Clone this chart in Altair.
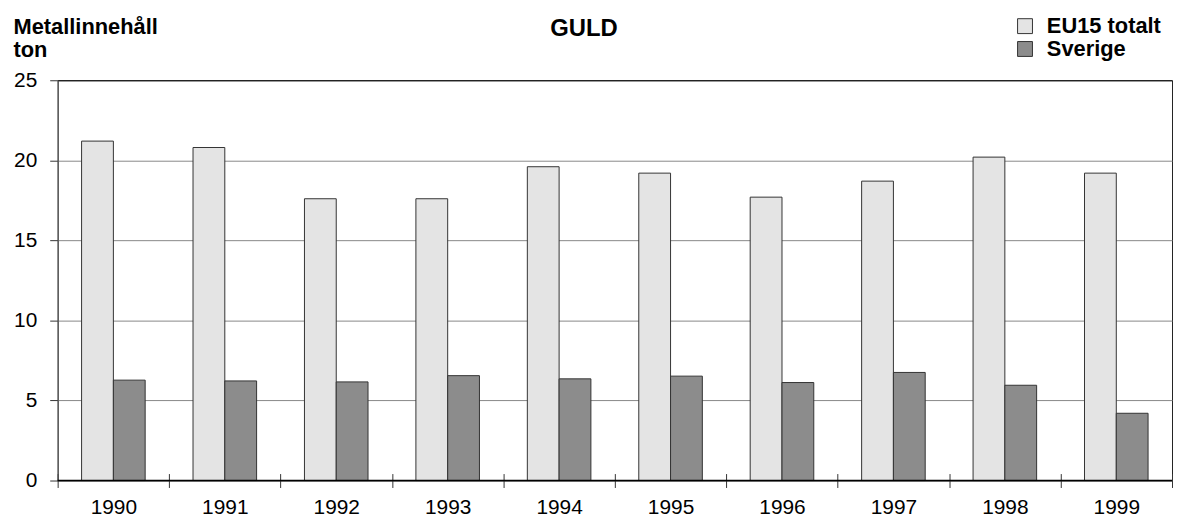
import altair as alt
import pandas as pd

years = ["1990", "1991", "1992", "1993", "1994", "1995", "1996", "1997", "1998", "1999"]
eu15 = [21.2, 20.8, 17.6, 17.6, 19.6, 19.2, 17.7, 18.7, 20.2, 19.2]
sverige = [6.27, 6.22, 6.16, 6.55, 6.35, 6.52, 6.12, 6.75, 5.95, 4.2]
series = ["EU15 totalt", "Sverige"]
colors = ["#e4e4e4", "#8c8c8c"]
y_ticks = [0, 5, 10, 15, 20, 25]
y_title = ["Metallinnehåll", "ton"]
chart_title = ["GULD"]

rows = []
for i, yr in enumerate(years):
    rows.append({"year": yr, "series": series[0], "value": eu15[i]})
    rows.append({"year": yr, "series": series[1], "value": sverige[i]})
df = pd.DataFrame(rows)

FONT = "Liberation Sans"

y_axis = alt.Axis(values=y_ticks, title=y_title, titleAngle=0, titleAlign="left",
                  titleBaseline="alphabetic", titleX=-45, titleY=-47,
                  titleFontSize=22, titleFontWeight="bold", titleFont=FONT,
                  titleLineHeight=23, titleColor="black",
                  labelFontSize=21, labelFont=FONT, labelColor="black",
                  labelPadding=13, tickSize=8, tickColor="#333333",
                  domainColor="#555555",
                  gridColor={"condition": {"test": "datum.value === 25", "value": "#111111"},
                             "value": "#888888"})

bars = alt.Chart(df).mark_bar(stroke="#333333", strokeWidth=1).encode(
    x=alt.X(
        "year:N", sort=years,
        scale=alt.Scale(paddingInner=0, paddingOuter=0),
        axis=alt.Axis(title=None, labelAngle=0, domain=False, tickBand="extent",
                      tickSize=14, offset=-7, tickColor="#333333", tickWidth=1,
                      labelFontSize=21, labelPadding=9, labelColor="black",
                      labelFont=FONT, grid=False),
    ),
    xOffset=alt.XOffset("series:N", sort=series,
                        scale=alt.Scale(paddingInner=0, paddingOuter=0.753)),
    y=alt.Y("value:Q", scale=alt.Scale(domain=[0, 25], nice=False), axis=y_axis),
    color=alt.Color(
        "series:N", sort=series,
        scale=alt.Scale(domain=series, range=colors),
        legend=alt.Legend(orient="none", legendX=963, legendY=-65.5, title=None,
                          symbolType="square", symbolSize=225,
                          symbolStrokeColor="#333333", symbolStrokeWidth=1,
                          symbolOpacity=1,
                          labelFontSize=22, labelFontWeight="bold", labelFont=FONT,
                          labelColor="black", labelOffset=11, rowPadding=1, padding=0),
    ),
)

zero = alt.Chart(pd.DataFrame({"z": [0]})).mark_rule(color="black", strokeWidth=1.5).encode(
    y=alt.Y("z:Q", axis=y_axis)
)

title_text = alt.Chart(pd.DataFrame({"t": chart_title})).mark_text(
    font=FONT, fontSize=24, fontWeight="bold", align="center",
    baseline="alphabetic", color="black"
).encode(text="t:N", x=alt.value(530), y=alt.value(-45))

chart = alt.layer(bars, zero, title_text).properties(
    width=1122, height=403,
    autosize=alt.AutoSizeParams(type="none"),
    padding={"left": 50, "top": 71, "right": 1, "bottom": 40},
    background="white",
).configure_view(stroke="#222222", strokeWidth=1)

chart.save("out.html", embed_options={"renderer": "svg", "actions": False})
